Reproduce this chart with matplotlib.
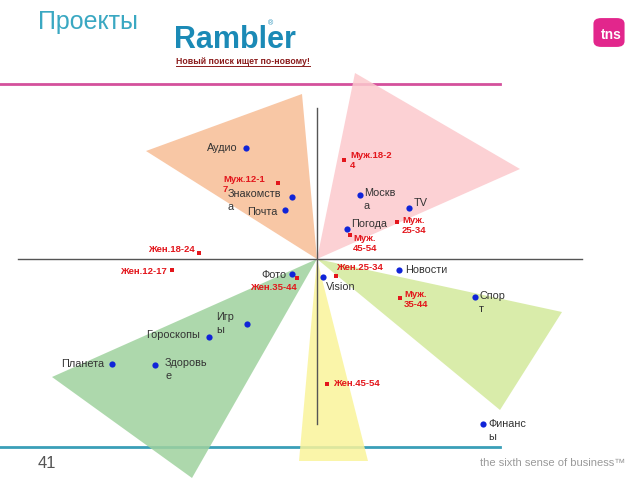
import matplotlib
matplotlib.use("Agg")
import matplotlib.pyplot as plt
from matplotlib.patches import Polygon, FancyBboxPatch

plt.rcParams['font.family'] = ['Liberation Sans', 'DejaVu Sans']

# Correspondence map: sections (blue) and audience groups (red)
site_names = ["Аудио", "Знакомств\nа", "Почта", "Москв\nа", "TV", "Погода",
              "Новости", "Vision", "Спор\nт", "Финанс\nы", "Фото", "Игр\nы",
              "Гороскопы", "Планета", "Здоровь\nе"]
site_x = [-0.71, -0.25, -0.32, 0.43, 0.92, 0.30, 0.82, 0.06, 1.58, 1.66,
          -0.25, -0.70, -1.08, -2.05, -1.62]
site_y = [1.11, 0.62, 0.49, 0.64, 0.51, 0.30, -0.11, -0.18, -0.38, -1.65,
          -0.15, -0.65, -0.78, -1.05, -1.06]

group_names = ["Муж.12-1\n7", "Жен.18-24", "Жен.12-17", "Жен.35-44",
               "Муж.18-2\n4", "Муж.\n25-34", "Муж.\n45-54", "Жен.25-34",
               "Муж.\n35-44", "Жен.45-54"]
group_x = [-0.39, -1.18, -1.45, -0.20, 0.27, 0.80, 0.33, 0.19, 0.83, 0.10]
group_y = [0.76, 0.06, -0.11, -0.19, 0.99, 0.37, 0.24, -0.17, -0.39, -1.25]

# cluster sectors (triangles from the origin)
sectors = {
    "orange": [(0, 0), (-1.71, 1.08), (-0.15, 1.65)],
    "pink": [(0, 0), (0.38, 1.86), (2.03, 0.90)],
    "lime": [(0, 0), (2.45, -0.53), (1.83, -1.51)],
    "yellow": [(0, 0), (-0.18, -2.02), (0.51, -2.02)],
    "green": [(0, 0), (-2.65, -1.18), (-1.25, -2.19)],
}
sector_colors = {"orange": "#f7bd96", "pink": "#fcc9cd", "lime": "#d3e99b",
                 "yellow": "#faf49a", "green": "#9fd29e"}

# label offsets in pixels (dx, dy, ha, va)
site_offsets = [(-8, 0, "right", "center"), (-64, 8, "left", "top"),
                (-7, -2, "right", "center"), (4, 7, "left", "top"),
                (5, 5, "left", "center"), (4, 5, "left", "center"),
                (6, 0, "left", "center"), (3, -10, "left", "center"),
                (4, 6, "left", "top"), (5, 5, "left", "top"),
                (-5, -1, "right", "center"), (-31, 12, "left", "top"),
                (-9, 2, "right", "center"), (-8, 0, "right", "center"),
                (10, 7, "left", "top")]
group_offsets = [(-55, 8, "left", "top"), (-4, 3, "right", "center"),
                 (-5, -2, "right", "center"), (0, -9, "right", "center"),
                 (6, 9, "left", "top"), (5, 6, "left", "top"),
                 (3, 1, "left", "top"), (0, 8, "left", "center"),
                 (4, 8, "left", "top"), (6, 0, "left", "center")]

fig = plt.figure(figsize=(6.4, 4.8), dpi=100)
ax = fig.add_axes([0, 0, 1, 1])
ax.set_xlim(-3.17, 3.23)
ax.set_ylim(-2.21, 2.59)
ax.axis("off")


def px(x, y):  # slide pixel -> map units
    return (x - 317) / 100.0, (259 - y) / 100.0


# header / footer rules
x0, y0 = px(0, 84)
x1, _ = px(500, 84)
ax.plot([x0, x1], [y0, y0], color="#d4509c", lw=2, zorder=1)
x0, y0 = px(0, 447)
ax.plot([x0, x1], [y0, y0], color="#3a9fb8", lw=2, zorder=1)

for key, pts in sectors.items():
    ax.add_patch(Polygon(pts, closed=True, facecolor=sector_colors[key],
                         edgecolor="none", alpha=0.85, zorder=2))

# map axes
ax.plot([px(18, 0)[0], px(582, 0)[0]], [0, 0], color="#555555", lw=1, zorder=3)
ax.plot([0, 0], [px(0, 108)[1], px(0, 424)[1]], color="#555555", lw=1, zorder=3)

ax.scatter(site_x, site_y, s=20, color="#1024d8", zorder=5, linewidths=0)
ax.scatter(group_x, group_y, s=9, marker="s", color="#e3161c", zorder=5,
           linewidths=0)

for name, x, y, (dx, dy, ha, va) in zip(site_names, site_x, site_y, site_offsets):
    ax.annotate(name, (x, y), xytext=(dx, dy), textcoords="offset pixels",
                ha=ha, va=va, fontsize=7.8, color="#333333", zorder=6,
                linespacing=1.35)

for name, x, y, (dx, dy, ha, va) in zip(group_names, group_x, group_y, group_offsets):
    ax.annotate(name, (x, y), xytext=(dx, dy), textcoords="offset pixels",
                ha=ha, va=va, fontsize=6.8, color="#e3161c", weight="bold",
                zorder=6, linespacing=1.1)

# slide decorations
W, H = 640.0, 480.0
fig.text(38 / W, 1 - 22 / H, "Проекты", fontsize=18, color="#3aa8c2",
         ha="left", va="center")
fig.text(174 / W, 1 - 40 / H, "Rambler", fontsize=22, color="#1b8ab6",
         weight="bold", ha="left", va="center")
fig.text(268 / W, 1 - 24 / H, "®", fontsize=5, color="#1b8ab6",
         ha="left", va="center")
fig.text(176 / W, 1 - 61 / H, "Новый поиск ищет по-новому!", fontsize=6.3,
         color="#8b1c1c", weight="bold", ha="left", va="center")
fig.add_artist(plt.Line2D([176 / W, 310 / W], [1 - 66 / H, 1 - 66 / H],
                          color="#8b1c1c", lw=0.7))

fig.add_artist(FancyBboxPatch((596 / W, 1 - 45 / H), 26 / W, 25 / H,
                              boxstyle="round,pad=0.004,rounding_size=0.012",
                              facecolor="#e2268c", edgecolor="none",
                              transform=fig.transFigure))
fig.text(622 / W, 1 - 35 / H, "tns", fontsize=10, color="white",
         weight="bold", ha="right", va="center")

fig.text(38 / W, 1 - 463 / H, "41", fontsize=12, color="#555555",
         ha="left", va="center")
fig.text(625 / W, 1 - 463 / H, "the sixth sense of business™", fontsize=8,
         color="#9a9a9a", ha="right", va="center")

fig.savefig("out.png", dpi=100)
